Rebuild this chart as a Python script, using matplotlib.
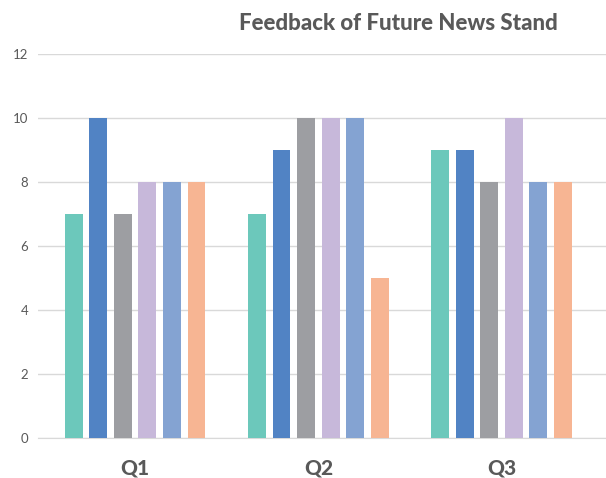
import numpy as np
import matplotlib.pyplot as plt

# quarterly feedback scores, six series per quarter
quarters = ['Q1', 'Q2', 'Q3']
series_1 = [7, 7, 9]
series_2 = [10, 9, 9]
series_3 = [7, 10, 8]
series_4 = [8, 10, 10]
series_5 = [8, 10, 8]
series_6 = [8, 5, 8]
yticks = [0, 2, 4, 6, 8, 10, 12]

all_series = [series_1, series_2, series_3, series_4, series_5, series_6]
colors = ['#6cc8bb', '#5183c4', '#9d9ea2', '#c7b8da', '#84a3d2', '#f7b593']

fig = plt.figure(figsize=(6.06, 4.78), dpi=100)
ax = fig.add_axes([38 / 606, 40 / 478, 568 / 606, 384 / 478])

x = np.arange(len(quarters))
step = 0.134
width = 0.098
for i, (vals, c) in enumerate(zip(all_series, colors)):
    ax.bar(x + (i - 2.5) * step, vals, width=width, color=c, zorder=3)

ax.set_xlim(-0.53, 2.57)
ax.set_ylim(0, 12)
ax.set_yticks(yticks)
ax.set_yticklabels([str(t) for t in yticks], fontsize=9.5, color='#595959', family='Lato')
ax.set_xticks(x)
ax.set_xticklabels(quarters, fontsize=15, fontweight=900, color='#595959', family='Lato')
ax.tick_params(axis='both', length=0)
ax.tick_params(axis='y', pad=7)
ax.tick_params(axis='x', pad=15)
ax.grid(axis='y', color='#d9d9d9', linewidth=1, zorder=0)
for s in ['top', 'right', 'left']:
    ax.spines[s].set_visible(False)
ax.spines['bottom'].set_color('#d9d9d9')

fig.text(398 / 606, 1 - 24 / 478, 'Feedback of Future News Stand', ha='center', va='center',
         fontsize=16, fontweight=900, color='#595959', family='Lato')

fig.savefig('out.png', dpi=100)
